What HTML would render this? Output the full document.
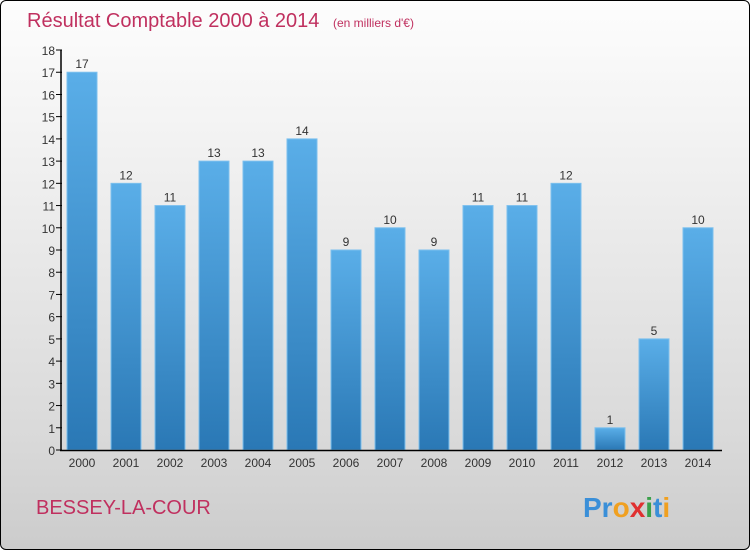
<!DOCTYPE html>
<html><head><meta charset="utf-8"><style>
html,body{margin:0;padding:0}
body{width:750px;height:550px;overflow:hidden;font-family:"Liberation Sans",sans-serif}
#frame{position:absolute;left:0;top:0;width:748px;height:548px;border:1px solid #000;border-radius:6px;background:linear-gradient(#fdfdfd,#f0f0f0 30%,#d9d9d9 80%,#cccccc);overflow:hidden}
</style></head><body>
<div id="frame">
<svg id="chart" width="750" height="550" style="position:absolute;left:-1px;top:-1px">
<defs><linearGradient id="bg" x1="0" y1="0" x2="0" y2="1"><stop offset="0" stop-color="#5aaee8"/><stop offset="1" stop-color="#2a78b5"/></linearGradient></defs>
<text x="27" y="27" font-size="20" fill="#c0305f">Résultat Comptable 2000 à 2014 <tspan font-size="12" dx="8">(en milliers d'€)</tspan></text>
<text x="36" y="514" font-size="20" fill="#c0305f">BESSEY-LA-COUR</text>
<text x="583" y="517" font-size="28" font-weight="bold"><tspan fill="#3a8fd8">Pr</tspan><tspan fill="#f0a020">o</tspan><tspan fill="#e03030">x</tspan><tspan fill="#3aa04a">i</tspan><tspan fill="#3a8fd8">t</tspan><tspan fill="#f0a020">i</tspan></text>
<g id="plot"></g>
</svg></div>
<script>
const categories=["2000","2001","2002","2003","2004","2005","2006","2007","2008","2009","2010","2011","2012","2013","2014"];
const values=[17,12,11,13,13,14,9,10,9,11,11,12,1,5,10];
const yTicks=[0,1,2,3,4,5,6,7,8,9,10,11,12,13,14,15,16,17,18];
const NS="http://www.w3.org/2000/svg";
const g=document.getElementById('plot');
const y=v=>450-v*(400/18);
const x=i=>82+i*44;
function mk(t,a){const e=document.createElementNS(NS,t);for(const k in a)e.setAttribute(k,a[k]);g.appendChild(e);return e;}
yTicks.forEach(v=>{
 const l=mk('line',{x1:56,x2:62,y1:y(v),y2:y(v),stroke:'#000'});
 
 
 const t=mk('text',{x:55,y:y(v)+5,'font-size':12,'text-anchor':'end',fill:'#333'});
 t.textContent=v;
 
 
});
values.forEach((v,i)=>{
 const r=mk('rect',{x:x(i)-15,y:y(v),width:30,height:450-y(v),fill:'url(#bg)',stroke:'#7cc0ee','stroke-width':1});
 
 
 const t=mk('text',{x:x(i),y:y(v)-4,'font-size':12,'text-anchor':'middle',fill:'#333'});
 t.textContent=v;
 
 
 const c=mk('text',{x:x(i),y:467,'font-size':12,'text-anchor':'middle',fill:'#333'});
 c.textContent=categories[i];
 
 
});
const ya=mk('line',{x1:61,x2:61,y1:50,y2:451,stroke:'#000','stroke-width':1.5});


const xa=mk('line',{x1:60,x2:722,y1:450.5,y2:450.5,stroke:'#000','stroke-width':1.5});


</script>
</body></html>
